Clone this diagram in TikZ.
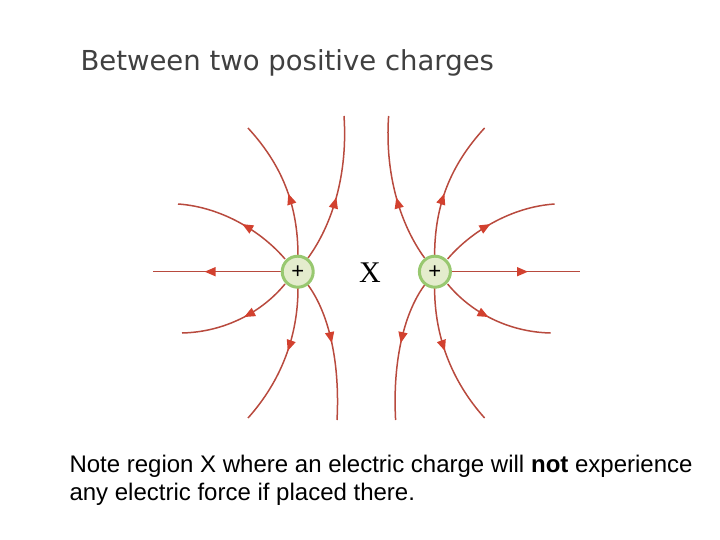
\documentclass[tikz,border=0pt]{standalone}
\usepackage{fontspec}
\setmainfont{Liberation Sans}
\newfontfamily\titlefont{DejaVu Sans}
\newfontfamily\xfont{Liberation Serif}
\usetikzlibrary{decorations.markings,arrows.meta}
\definecolor{fieldc}{HTML}{B84A3E}
\definecolor{arrc}{HTML}{D2412F}
\definecolor{chfill}{HTML}{E4ECCD}
\definecolor{chdraw}{HTML}{98C870}
\begin{document}
\begin{tikzpicture}[x=1pt,y=-1pt,
  fl/.style={draw=fieldc,line width=1.5pt,postaction={decorate},
    decoration={markings,mark=at position #1 with {\arrow[arrc]{Triangle[length=11pt,width=9pt]}}}},
  fl/.default=0.5,
  charge/.style={circle,fill=chfill,draw=chdraw,line width=3pt,minimum size=31pt,inner sep=0pt,font=\fontsize{22}{22}\selectfont},
  note/.style={anchor=base west,font=\fontsize{24}{28}\selectfont}]
\useasboundingbox (0,0) rectangle (720,540);
\node[anchor=base west,text=black!75,font=\titlefont\fontsize{27.5}{30}\selectfont] (title) at (77,71) {Between two positive charges};
\foreach \s/\sh in {1/0,-1/732.6}{
\begin{scope}[shift={(\sh,0)},xscale=\s]
\draw[fl=0.6] (282,271.7) -- (153,271.7);
\draw[fl=0.45] (285,259) .. controls (262,232) and (222,207) .. (178,204);
\draw[fl=0.45] (298,256) .. controls (298,205) and (282,165) .. (248,128);
\draw[fl=0.45] (308,258) .. controls (332,225) and (348,175) .. (344,116);
\draw[fl=0.45] (285,284) .. controls (262,312) and (225,332) .. (182,333);
\draw[fl=0.45] (298,288) .. controls (298,335) and (282,380) .. (248,418);
\draw[fl=0.45] (308,285) .. controls (330,315) and (340,365) .. (337,420);
\end{scope}}
\node[charge] (L) at (297.7,271.7) {+};
\node[charge] (R) at (434.9,271.7) {+};
\node[font=\xfont\fontsize{30}{30}\selectfont] (X) at (370,273) {X};
\node[note] (note1) at (66,472) {Note region X where an electric charge will \textbf{not} experience};
\node[note] (note2) at (66,500) {any electric force if placed there.};
\end{tikzpicture}
\end{document}
